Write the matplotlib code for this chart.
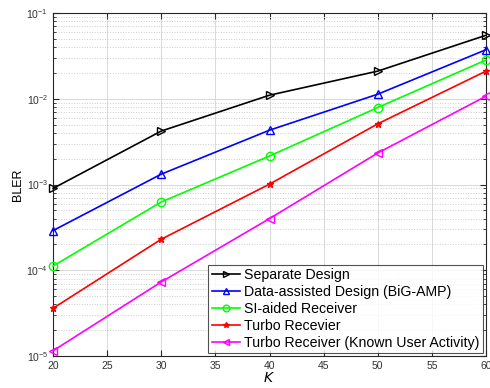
import matplotlib
matplotlib.use("Agg")
import matplotlib.pyplot as plt
from matplotlib.ticker import LogLocator, NullFormatter

K = [20, 30, 40, 50, 60]
separate = [9.0e-4, 4.2e-3, 1.1e-2, 2.1e-2, 5.5e-2]
data_assisted = [2.9e-4, 1.32e-3, 4.3e-3, 1.13e-2, 3.73e-2]
si_aided = [1.12e-4, 6.25e-4, 2.15e-3, 7.9e-3, 2.83e-2]
turbo = [3.6e-5, 2.3e-4, 1.01e-3, 5.1e-3, 2.1e-2]
turbo_known = [1.15e-5, 7.3e-5, 4.0e-4, 2.33e-3, 1.07e-2]
labels = ["Separate Design", "Data-assisted Design (BiG-AMP)", "SI-aided Receiver",
          "Turbo Recevier", "Turbo Receiver (Known User Activity)"]
xticks = [20, 25, 30, 35, 40, 45, 50, 55, 60]

plt.rcParams['font.family'] = ['Liberation Sans', 'DejaVu Sans']
fig = plt.figure(figsize=(4.9, 3.88), dpi=100)
ax = fig.add_axes([53/490, 1-356/388, (486-53)/490, (356-13)/388])

series = [separate, data_assisted, si_aided, turbo, turbo_known]
colors = ['black', 'blue', '#00ff00', 'red', 'magenta']
markers = ['>', '^', 'o', '*', '<']
for s, c, m, lab in zip(series, colors, markers, labels):
    filled = (m == '*')
    ax.semilogy(K, s, color=c, marker=m, markersize=5 if filled else 6,
                markerfacecolor=c if filled else 'none', markeredgecolor=c,
                markeredgewidth=1.0,
                linewidth=1.2, label=lab, clip_on=False, zorder=3)

ax.set_xlim(20, 60)
ax.set_ylim(1e-5, 1e-1)
ax.set_xticks(xticks)
ax.yaxis.set_major_locator(LogLocator(base=10, numticks=10))
ax.yaxis.set_minor_locator(LogLocator(base=10, subs=range(2, 10), numticks=100))
ax.yaxis.set_minor_formatter(NullFormatter())
ax.grid(True, which='major', color='#d8d8d8', linestyle='-', linewidth=0.7)
ax.grid(True, which='minor', axis='y', color='#cccccc', linestyle=':', linewidth=0.7)
ax.tick_params(which='both', direction='in', top=True, right=True, labelsize=7.5,
               colors='#262626', labelcolor='#333333')
ax.tick_params(which='major', length=4)
ax.tick_params(which='minor', length=2)
for sp in ax.spines.values():
    sp.set_color('#262626')
    sp.set_linewidth(0.8)
ax.set_xlabel('$K$', fontsize=10, labelpad=0)
ax.set_ylabel('BLER', fontsize=9, labelpad=2)

leg = ax.legend(loc='lower right', fontsize=10.2, frameon=True, fancybox=False,
                edgecolor='#262626', borderpad=0.25, labelspacing=0.2,
                handlelength=2.0, handletextpad=0.3, borderaxespad=0.2,
                markerscale=0.8)
leg.get_frame().set_linewidth(0.8)

fig.savefig('out.png', dpi=100)
